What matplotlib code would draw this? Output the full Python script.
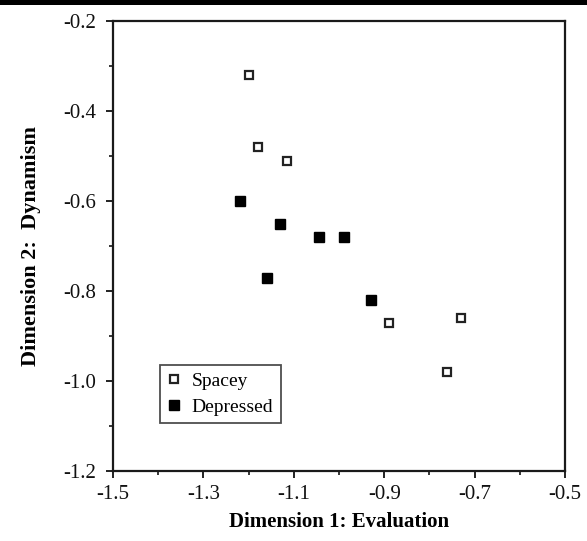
import numpy as np
import matplotlib.pyplot as plt
from matplotlib.patches import Rectangle
from matplotlib.ticker import MultipleLocator

plt.rcParams['font.family'] = ['Liberation Serif', 'DejaVu Serif']

# data
spacey_x = [-1.20, -1.18, -1.115, -0.89, -0.73, -0.76]
spacey_y = [-0.32, -0.48, -0.51, -0.87, -0.86, -0.98]
depressed_x = [-1.22, -1.13, -1.045, -0.99, -1.16, -0.93]
depressed_y = [-0.60, -0.65, -0.68, -0.68, -0.77, -0.82]
x_ticks = [-1.5, -1.3, -1.1, -0.9, -0.7, -0.5]
y_ticks = [-0.2, -0.4, -0.6, -0.8, -1.0, -1.2]

fig = plt.figure(figsize=(5.87, 5.41), dpi=100, facecolor='white')
ax = fig.add_axes([113 / 587, 1 - 471 / 541, 452 / 587, 450 / 541])

ax.plot(spacey_x, spacey_y, 's', ms=6, mfc='white', mec='#222222', mew=1.6,
        label='Spacey', clip_on=False)
ax.plot(depressed_x, depressed_y, 's', ms=6.5, mfc='black', mec='black', mew=1,
        label='Depressed', clip_on=False)

ax.set_xlim(-1.5, -0.5)
ax.set_ylim(-1.2, -0.2)
ax.set_xticks(x_ticks)
ax.set_xticklabels([f'{v:.1f}' for v in x_ticks])
ax.set_yticks(y_ticks)
ax.set_yticklabels([f'{v:.1f}' for v in y_ticks])
ax.xaxis.set_minor_locator(MultipleLocator(0.1))
ax.yaxis.set_minor_locator(MultipleLocator(0.1))
ax.tick_params(which='major', direction='out', length=5, width=1.3,
               labelsize=15, colors='#111111')
ax.tick_params(axis='x', which='major', pad=5)
ax.tick_params(axis='y', which='major', pad=7)
ax.tick_params(which='minor', direction='out', length=3, width=1.1)
for s in ax.spines.values():
    s.set_linewidth(1.6)
    s.set_color('#1a1a1a')

ax.set_xlabel('Dimension 1: Evaluation', fontsize=15, fontweight='bold', labelpad=6)
ax.set_ylabel('Dimension 2:  Dynamism', fontsize=16, fontweight='bold', labelpad=16)

leg = ax.legend(loc='upper left', bbox_to_anchor=(0.105, 0.236), frameon=True,
                fancybox=False, fontsize=14, handlelength=0.6, handletextpad=0.6,
                borderpad=0.4, labelspacing=0.4, borderaxespad=0)
leg.get_frame().set_edgecolor('#222222')
leg.get_frame().set_linewidth(1.3)

# black bar across the top of the scanned page
fig.add_artist(Rectangle((0, 1 - 5 / 541), 1, 5 / 541, transform=fig.transFigure,
                         color='black', lw=0))

plt.savefig('out.png', dpi=100, facecolor='white')
plt.close(fig)
